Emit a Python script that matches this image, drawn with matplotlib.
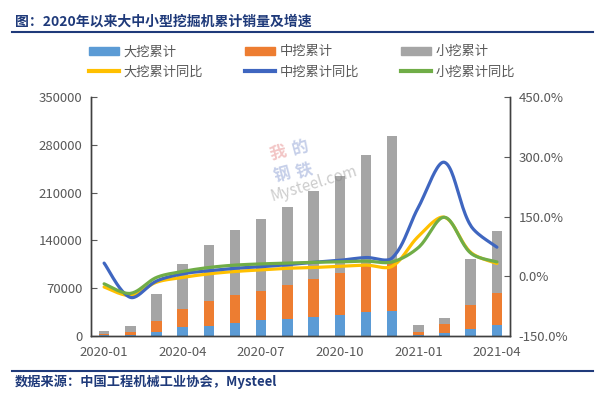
import matplotlib
matplotlib.use('Agg')
import matplotlib.pyplot as plt
import numpy as np
from matplotlib.lines import Line2D
from matplotlib.patches import Patch

plt.rcParams['font.family'] = ['Noto Sans CJK SC', 'DejaVu Sans']

months = ['2020-01', '2020-02', '2020-03', '2020-04', '2020-05', '2020-06',
          '2020-07', '2020-08', '2020-09', '2020-10', '2020-11', '2020-12',
          '2021-01', '2021-02', '2021-03', '2021-04']
large = [1200, 1800, 6300, 12700, 15100, 19000, 23400, 24900,
         27300, 30700, 34600, 37000, 1500, 5000, 10800, 15600]
medium = [1600, 4500, 15700, 26300, 36100, 41000, 42900, 49300,
          56100, 61800, 70700, 71000, 4800, 12500, 34600, 46800]
small = [4500, 8800, 39400, 65900, 81800, 95000, 105400, 115100,
         128700, 142500, 159500, 184600, 9800, 9100, 67800, 91700]
large_yoy = [-27, -48, -15, -3, 6, 12, 16, 20, 22, 25, 28, 25, 100, 148, 60, 32]
medium_yoy = [33, -53, -12, 6, 14, 20, 24, 29, 35, 40, 47, 46, 173, 286, 127, 73]
small_yoy = [-19, -43, -3, 12, 22, 28, 31, 33, 35, 36, 38, 36, 72, 148, 58, 36]

C_BLUE = '#5B9BD5'
C_ORANGE = '#ED7D31'
C_GRAY = '#A5A5A5'
C_YELLOW = '#FFC000'
C_DBLUE = '#3F66C0'
C_GREEN = '#70AD47'
NAVY = '#1F3A7A'
TXT = '#595959'


def smooth(x, y, kx=26.2, ky=0.4, n=24):
    # excel-like smoothed line: bezier with control points scaled by screen segment length
    p = np.column_stack([np.asarray(x, float) * kx, np.asarray(y, float) * ky])
    m = len(p)
    d = np.hypot(*np.diff(p, axis=0).T)
    pts = [p[0]]
    for i in range(m - 1):
        a, b = p[i], p[i + 1]
        ta = (p[i + 1] - p[i - 1]) if i > 0 else (p[1] - p[0])
        tb = (p[i + 2] - p[i]) if i + 2 < m else (p[-1] - p[-2])
        fa = d[i] / (d[i - 1] + d[i]) if i > 0 else 0.5
        fb = d[i] / (d[i] + d[i + 1]) if i + 2 < m else 0.5
        c1 = a + ta * fa / 3
        c2 = b - tb * fb / 3
        t = np.linspace(0, 1, n)[1:, None]
        seg = ((1 - t) ** 3) * a + 3 * ((1 - t) ** 2) * t * c1 + 3 * (1 - t) * t ** 2 * c2 + t ** 3 * b
        pts.extend(seg)
    pts = np.array(pts)
    return pts[:, 0] / kx, pts[:, 1] / ky


fig = plt.figure(figsize=(6, 3.94), dpi=100)
ax = fig.add_axes([0.1517, 0.1472, 0.6983, 0.6066])
ax2 = ax.twinx()

idx = np.arange(len(months))
w = 0.4
ax.bar(idx, large, w, color=C_BLUE, zorder=2)
ax.bar(idx, medium, w, bottom=large, color=C_ORANGE, zorder=2)
ax.bar(idx, small, w, bottom=np.add(large, medium), color=C_GRAY, zorder=2)

for vals, c in ((large_yoy, C_YELLOW), (medium_yoy, C_DBLUE), (small_yoy, C_GREEN)):
    sx, sy = smooth(idx, vals)
    ax2.plot(sx, sy, color=c, lw=2.3, solid_capstyle='round')

ax.set_xlim(-0.5, 15.5)
ax.set_ylim(0, 350000)
ax.set_yticks(range(0, 350001, 70000))
ax2.set_ylim(-150, 450)
ax2.set_yticks([-150, 0, 150, 300, 450])
ax2.set_yticklabels([f'{v:.1f}%' for v in [-150, 0, 150, 300, 450]])
ax.set_xticks(idx[::3])
ax.set_xticklabels(months[::3])

for a in (ax, ax2):
    a.set_facecolor('none')
    for s in a.spines.values():
        s.set_color('#404040')
        s.set_linewidth(1.0)
    a.spines['top'].set_visible(False)
    a.tick_params(colors=TXT, labelsize=9.5, direction='in', length=4)
ax.tick_params(axis='x', length=0, pad=7)
ax.tick_params(axis='y', pad=6)
ax2.tick_params(axis='y', pad=6)
ax.set_zorder(1)
ax2.set_zorder(2)

# legend, filled column by column so rows read 累计 / 同比
handles = [Patch(color=C_BLUE), Line2D([], [], color=C_YELLOW, lw=3),
           Patch(color=C_ORANGE), Line2D([], [], color=C_DBLUE, lw=3),
           Patch(color=C_GRAY), Line2D([], [], color=C_GREEN, lw=3)]
labels = ['大挖累计', '大挖累计同比', '中挖累计', '中挖累计同比', '小挖累计', '小挖累计同比']
fig.legend(handles, labels, ncol=3, loc='center left', bbox_to_anchor=(89 / 600, 1 - 62 / 394),
           frameon=False, fontsize=9.5, labelcolor=TXT, handlelength=2.3,
           handleheight=0.6, columnspacing=3.2, labelspacing=0.55, handletextpad=0.3,
           borderpad=0, borderaxespad=0)

# watermark
for ch, (px, py), col in (('我', (278, 153), '#E07070'), ('的', (300, 148), '#7088C8'),
                          ('钢', (282, 175), '#7088C8'), ('铁', (304, 170), '#7088C8')):
    fig.text(px / 600, 1 - py / 394, ch, color=col, alpha=0.4, fontsize=12,
             fontweight='bold', rotation=15, ha='center', va='center')
fig.text(314 / 600, 1 - 184 / 394, 'Mysteel.com', color='#808080', alpha=0.4, fontsize=11,
         rotation=17, ha='center', va='center')

fig.text(15 / 600, 1 - 21.7 / 394, '图：2020年以来大中小型挖掘机累计销量及增速', color=NAVY,
         fontsize=10, fontweight='bold', va='center')
fig.add_artist(Line2D([12 / 600, 593 / 600], [1 - 31.7 / 394] * 2, color=NAVY, lw=1.5))
fig.add_artist(Line2D([12 / 600, 593 / 600], [1 - 370.7 / 394] * 2, color=NAVY, lw=1.5))
fig.text(15 / 600, 1 - 381.7 / 394, '数据来源：中国工程机械工业协会，Mysteel', color=NAVY,
         fontsize=9.5, fontweight='bold', va='center')

fig.savefig('out.png', dpi=100)
